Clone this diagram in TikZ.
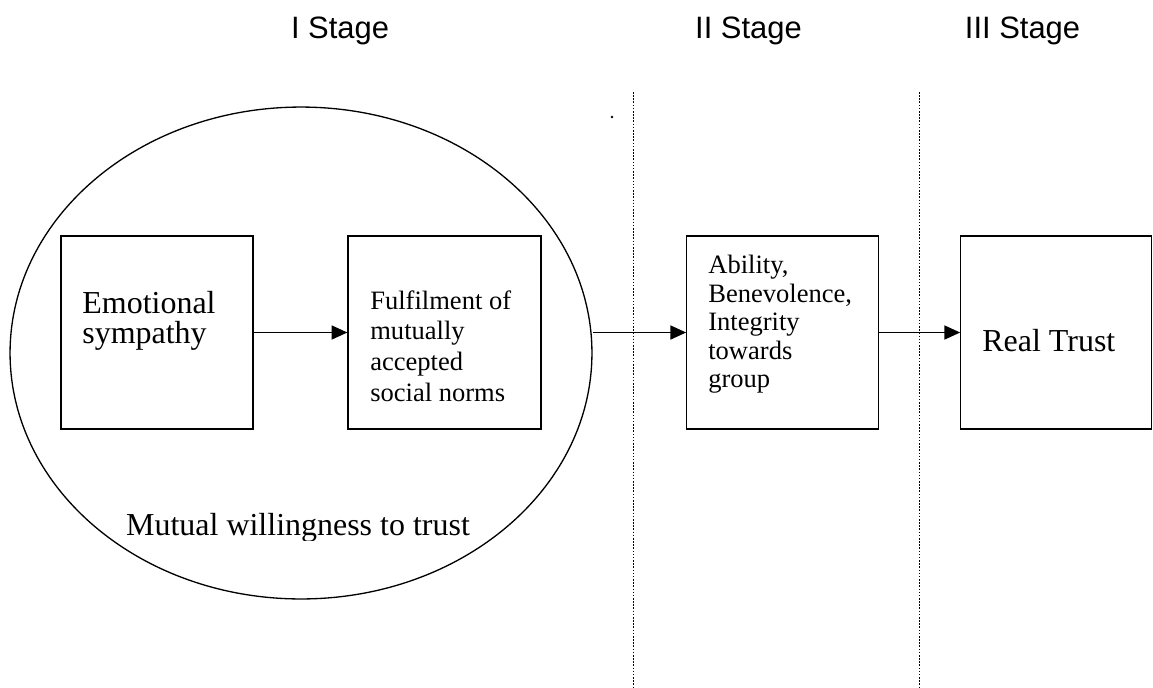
\documentclass[tikz,border=0pt]{standalone}
\usepackage{fontspec}
\setmainfont{Liberation Serif}
\newfontfamily\stagefont{Liberation Sans}
\usetikzlibrary{shapes.geometric, arrows.meta, calc}
\newcommand{\bigtxt}{\fontsize{18.2}{16.8}\selectfont}
\newcommand{\midtxt}{\fontsize{15.1}{17.6}\selectfont}
\newcommand{\midtxtb}{\fontsize{15.1}{16.2}\selectfont}
\newcommand{\stagetxt}{\stagefont\fontsize{17.6}{20}\selectfont}

\begin{document}
\begin{tikzpicture}[x=0.02cm, y=-0.02cm, >={Triangle[length=9pt,width=8pt]}]
        \tikzstyle{box}=[draw, line width=0.75pt, inner sep=0pt, minimum height=3.86cm]
        \tikzstyle{txt}=[inner sep=0pt, align=left, anchor=north west]
        \tikzstyle{stage}=[inner sep=0pt, anchor=base, font=\stagetxt]
        \tikzstyle{divider}=[line width=0.45pt, dash pattern=on 0.9pt off 0.9pt]
        \tikzstyle{point}=[circle, fill, inner sep=0pt, minimum size=1.6pt]
        \tikzstyle{flow}=[->, line width=0.9pt]
        \useasboundingbox (0,0) rectangle (1153,687);

        % Stage headings
        \node[stage] (s1) at (340,38) {I Stage};
        \node[stage] (s2) at (748.5,38) {II Stage};
        \node[stage] (s3) at (1022.5,38) {III Stage};

        % Dividers between stages
        \draw[divider] (633,92) -- (633,687);
        \draw[divider] (919,92) -- (919,687);
        \node[point] (dot) at (612,117) {};

        % Stage I
        \node[draw, ellipse, line width=0.75pt, inner sep=0pt,
              minimum width=11.64cm, minimum height=9.84cm] (willing) at (301,353) {};
        \node[box, minimum width=3.84cm] (emotion) at (157,332.5) {};
        \node[box, minimum width=3.86cm] (norms) at (444.5,332.5) {};
        \node[txt, font=\bigtxt] (emotiontxt) at (82,291) {Emotional\\sympathy};
        \node[txt, font=\midtxt] (normstxt) at (370,290) {Fulfilment of\\mutually\\accepted\\social norms};
        \begin{scope}
            % text box cuts the descenders
            \clip (0,0) rectangle (1153,540);
            \node[inner sep=0pt, anchor=base, font=\bigtxt] (willingtxt) at (298,535) {Mutual willingness to trust};
        \end{scope}

        % Stage II
        \node[box, minimum width=3.84cm] (ability) at (782.8,332.5) {};
        \node[txt, font=\midtxtb] (abilitytxt) at (708,255) {Ability,\\Benevolence,\\Integrity\\towards\\group};

        % Stage III
        \node[box, minimum width=3.82cm] (trust) at (1056.3,332.5) {};
        \node[inner sep=0pt, anchor=base west, font=\bigtxt] (trusttxt) at (982,351) {Real Trust};

        % Arrows
        \draw[flow] (emotion.east) -- (norms.west);
        \draw[flow] (willing.east |- ability.west) -- (ability.west);
        \draw[flow] (ability.east) -- (trust.west);
\end{tikzpicture}
\end{document}
